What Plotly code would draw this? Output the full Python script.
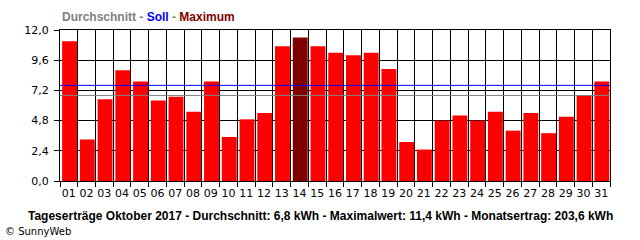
import plotly.graph_objects as go

days = [f"{d:02d}" for d in range(1, 32)]
values = [11.1, 3.3, 6.5, 8.8, 7.9, 6.4, 6.7, 5.5, 7.9, 3.5, 4.9, 5.4, 10.7, 11.4, 10.7,
          10.2, 10.0, 10.2, 8.9, 3.1, 2.5, 4.8, 5.2, 4.8, 5.5, 4.0, 5.4, 3.8, 5.1, 6.8, 7.9]
average = 6.8
target = 7.6
month_total = 203.6
y_ticks = [0, 2.4, 4.8, 7.2, 9.6, 12.0]

xs = list(range(1, len(days) + 1))
max_val = max(values)
colors = ["#800000" if v == max_val else "#ff0000" for v in values]


def de(v):
    return f"{v:.1f}".replace(".", ",")


fig = go.Figure()
fig.add_trace(go.Bar(x=xs, y=values, marker=dict(color=colors, line=dict(width=0)),
                     width=0.84, offset=-0.38, hoverinfo="skip"))

fig.add_shape(type="line", xref="paper", yref="y", x0=0, x1=1, y0=target, y1=target,
              line=dict(color="#0000ff", width=1), layer="above")
fig.add_shape(type="line", xref="paper", yref="y", x0=0, x1=1, y0=average, y1=average,
              line=dict(color="#808080", width=1), layer="above")

font = "DejaVu Sans"
bold_font = "Liberation Sans"
fig.update_layout(
    width=640, height=240,
    margin=dict(l=60, r=30, t=30, b=59),
    paper_bgcolor="white", plot_bgcolor="white",
    separators=",.",
    showlegend=False,
    font=dict(family=font, size=11, color="black"),
    xaxis=dict(range=[0.5, 31.5], tickvals=xs, ticktext=days, ticks="", showgrid=False,
               zeroline=False, showline=True, linecolor="black", linewidth=1, mirror=True,
               tickfont=dict(size=11), ticklabelstandoff=2,
               minor=dict(tick0=0.5, dtick=1, showgrid=True, gridcolor="black", gridwidth=1,
                          ticks="outside", ticklen=5, tickcolor="black", tickwidth=1)),
    yaxis=dict(range=[0, 12], tickvals=y_ticks, tickformat=".1f", ticks="outside", ticklen=5,
               tickcolor="black", showgrid=True, gridcolor="black", gridwidth=1,
               zeroline=False, showline=True, linecolor="black", linewidth=1, mirror=True,
               tickfont=dict(size=11), ticklabelstandoff=3),
)

fig.add_annotation(xref="paper", yref="paper", x=0, y=1, yshift=4, xanchor="left", yanchor="bottom",
                   showarrow=False,
                   text="<b><span style='color:#808080'>Durchschnitt - </span>"
                        "<span style='color:#0000ff'>Soll</span>"
                        "<span style='color:#808080'> - </span>"
                        "<span style='color:#800000'>Maximum</span></b>",
                   font=dict(family=bold_font, size=12))

bottom = (f"<b>Tageserträge Oktober 2017 - Durchschnitt: {de(average)} kWh - "
          f"Maximalwert: {de(max_val)} kWh - Monatsertrag: {de(month_total)} kWh</b>")
fig.add_annotation(xref="paper", yref="paper", x=(320 - 60) / 550, y=0, yshift=-27, xanchor="center",
                   yanchor="top", showarrow=False, text=bottom, borderpad=0,
                   font=dict(family=bold_font, size=12))
fig.add_annotation(xref="paper", yref="paper", x=-60 / 550, y=0, yshift=-44, xanchor="left",
                   yanchor="top", showarrow=False, text="© SunnyWeb", borderpad=0,
                   font=dict(family=font, size=10), xshift=4)

fig.write_html("out.html")
